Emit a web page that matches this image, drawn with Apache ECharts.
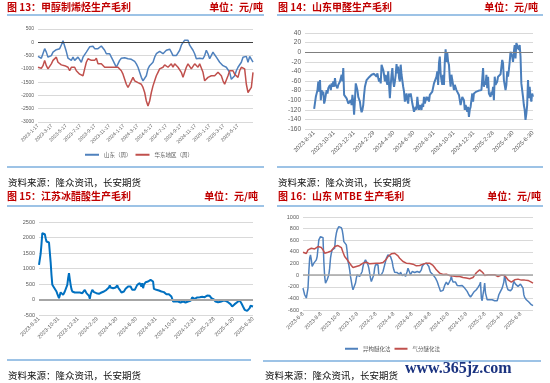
<!DOCTYPE html>
<html><head><meta charset="utf-8">
<script src="https://cdn.jsdelivr.net/npm/echarts@6/dist/echarts.min.js"></script>
<style>
html,body{margin:0;padding:0;background:#fff;width:550px;height:383px;overflow:hidden;}
#c{position:absolute;left:0;top:0;width:550px;height:383px;}
.t{position:absolute;font-family:"Noto Sans CJK SC";font-weight:bold;font-size:10px;color:#c00000;line-height:12px;white-space:nowrap;}
.r{position:absolute;height:2px;background:#9dc3e6;}
.s{position:absolute;font-family:"Noto Sans CJK SC";font-size:9.5px;color:#111;line-height:12px;white-space:nowrap;}
.w{position:absolute;font-family:"Liberation Serif";font-weight:bold;font-size:16px;color:#1b3380;line-height:20px;white-space:nowrap;}
</style></head><body>
<div id="c"></div>
<div class="t" style="left:7px;top:1px">图 13：甲醇制烯烃生产毛利</div>
<div class="t" style="right:287px;top:1px">单位：元/吨</div>
<div class="t" style="left:278px;top:1px">图 14：山东甲醛生产毛利</div>
<div class="t" style="right:12px;top:1px">单位：元/吨</div>
<div class="t" style="left:7px;top:190px">图 15：江苏冰醋酸生产毛利</div>
<div class="t" style="right:292px;top:190px">单位：元/吨</div>
<div class="t" style="left:278px;top:190px">图 16：山东 MTBE 生产毛利</div>
<div class="t" style="right:9px;top:190px">单位：元/吨</div>
<div class="r" style="left:7px;width:257px;top:14px"></div>
<div class="r" style="left:277px;width:266px;top:14px"></div>
<div class="r" style="left:7px;width:257px;top:205px"></div>
<div class="r" style="left:277px;width:266px;top:205px"></div>
<div class="r" style="left:7px;width:257px;top:166px"></div>
<div class="r" style="left:277px;width:266px;top:166px"></div>
<div class="r" style="left:7px;width:244px;top:359px"></div>
<div class="r" style="left:263px;width:278px;top:360px"></div>
<div class="s" style="left:8px;top:176px">资料来源：隆众资讯，长安期货</div>
<div class="s" style="left:278px;top:176px">资料来源：隆众资讯，长安期货</div>
<div class="s" style="left:8px;top:369px">资料来源：隆众资讯，长安期货</div>
<div class="s" style="left:265px;top:369px">资料来源：隆众资讯，长安期货</div>
<div class="w" style="left:405px;top:358px">www.365jz.com</div>
<script>
// ---------- DATA ----------
var p1Ticks = ['2023-1-17','2023-3-17','2023-5-17','2023-7-17','2023-9-17','2023-11-17','2024-1-17','2024-3-17','2024-5-17','2024-7-17','2024-9-17','2024-11-17','2025-1-17','2025-3-17','2025-5-17'];
var p1Range = ['2023-1-17','2025-7-20'];
var p1Shandong = [-530,-560,-600,-540,-240,-370,-560,-560,-500,-370,-300,-280,-340,-240,-100,60,130,-350,-600,-620,-680,-560,-680,-620,-560,-560,-750,-560,-500,-370,-300,-170,-110,-150,-240,-240,-240,-220,-140,-170,-300,-430,-500,-430,-560,-680,-810,-940,-810,-680,-600,-560,-580,-560,-620,-680,-640,-620,-720,-810,-940,-1130,-1320,-1450,-1450,-1260,-1000,-880,-810,-750,-560,-430,-370,-340,-370,-430,-370,-300,-240,-260,-370,-500,-560,-500,-430,-300,-110,-110,80,120,80,-110,-170,-300,-430,-620,-600,-600,-620,-620,-500,-300,-430,-620,-560,-370,-470,-560,-620,-750,-810,-880,-940,-940,-980,-1130,-1390,-1450,-1260,-1070,-940,-880,-750,-560,-500,-530,-750,-530,-500,-750];
var p1Huadong = [-940,-1000,-980,-880,-680,-880,-1000,-940,-810,-680,-620,-560,-750,-810,-850,-810,-880,-810,-940,-1070,-940,-1000,-940,-1070,-1130,-1200,-1260,-1260,-1000,-750,-620,-680,-680,-620,-680,-600,-810,-880,-810,-880,-940,-900,-940,-880,-940,-880,-940,-1000,-940,-940,-1070,-1200,-1390,-1580,-1700,-1580,-1450,-1320,-1450,-1520,-1520,-1450,-1580,-1700,-1890,-2210,-2400,-2210,-1890,-1640,-1450,-1260,-1130,-1000,-980,-940,-850,-880,-940,-880,-810,-940,-810,-880,-940,-1000,-1130,-1320,-1130,-940,-810,-880,-1000,-940,-810,-880,-940,-810,-880,-1130,-1450,-1520,-1320,-1320,-1260,-1320,-1260,-1230,-1130,-1110,-1260,-1450,-1580,-1520,-1260,-1070,-1130,-1070,-1200,-1130,-1320,-1070,-940,-880,-1000,-1580,-1890,-1890,-1700,-1130];

var p2Ticks = ['2023-8-31','2023-10-31','2023-12-31','2024-2-29','2024-4-30','2024-6-30','2024-8-31','2024-10-31','2024-12-31','2025-2-28','2025-4-30','2025-6-30'];
var p2Axis = ['2023-8-3','2025-6-30'];
var p2Range = ['2023-8-31','2025-6-30'];
var p2Formaldehyde = [-118,-114,-93,-95,-79,-61,-82,-58,-100,-79,-89,-82,-107,-100,-89,-79,-86,-75,-79,-68,-79,-65,-72,-61,-72,-54,-68,-65,-75,-68,-65,-61,-54,-47,-61,-33,-89,-93,-91,-96,-100,-107,-108,-110,-100,-110,-89,-103,-130,-100,-65,-72,-79,-93,-98,-103,-117,-125,-120,-110,-89,-72,-75,-58,-56,-54,-52,-51,-48,-47,-45,-44,-45,-46,-48,-51,-44,-54,-61,-54,-65,-26,-22,-37,-47,-61,-47,-61,-68,-40,-68,-96,-68,-47,-33,-61,-72,-61,-47,-25,-44,-30,-54,-61,-26,-47,-47,-72,-82,-103,-103,-86,-100,-107,-86,-93,-86,-96,-107,-110,-124,-120,-114,-120,-93,-110,-120,-110,-114,-120,-107,-114,-93,-107,-103,-93,-100,-93,-103,-89,-93,-86,-82,-79,-65,-68,-65,-51,-40,-68,-23,-9,-44,-58,-68,-47,-68,-20,6,-20,-2,-20,-26,-54,-72,-47,-58,-68,-79,-68,-72,-79,-77,-75,-89,-100,-110,-107,-93,-89,-100,-120,-110,-117,-124,-114,-135,-120,-114,-117,-86,-103,-86,-89,-85,-82,-82,-82,-80,-79,-79,-79,-75,-33,-72,-61,-68,-47,-75,-51,-86,-82,-93,-82,-89,-72,-100,-51,-68,-65,-61,-51,-49,-47,-46,-47,-16,-23,-58,-61,-79,-68,-40,-51,-37,-20,1,-2,-9,-20,1,15,-13,19,22,19,5,15,-9,-65,-65,-93,-110,-120,-141,-128,-110,-58,-96,-72,-93,-103,-86,-93];

var p3Ticks = p2Ticks;
var p3Range = ['2023-8-31','2025-6-30'];
var p3Acetic = [1118,1064,1480,1790,2139,2085,2170,2110,1978,1870,1838,1838,1838,1816,1200,790,473,419,387,365,344,258,180,150,43,97,230,258,204,150,204,258,226,312,473,688,849,650,473,333,258,237,258,226,237,204,226,183,204,226,183,226,204,183,226,312,258,204,258,226,118,22,170,226,312,344,237,204,226,204,183,226,183,204,237,226,258,204,258,290,290,312,344,312,387,452,387,365,344,365,365,333,387,419,452,387,344,312,258,226,280,237,258,312,344,365,387,419,452,473,419,365,312,280,280,312,290,333,473,527,494,527,473,419,527,365,473,494,559,559,527,580,580,602,634,656,580,580,344,312,290,312,333,312,290,290,280,258,258,237,237,204,183,172,183,172,172,150,150,97,22,-65,-129,-86,-65,-86,-43,-65,-86,-65,-97,-65,-43,-65,-86,-65,-97,-65,-86,-65,-43,-65,-43,-11,65,43,22,22,43,65,65,86,75,75,86,75,86,86,97,75,97,118,129,150,150,118,65,43,22,22,0,-22,-65,-86,-108,-86,-118,-97,-75,-65,-43,-43,-43,-32,-43,-32,-65,-86,-65,-118,-150,-204,-226,-194,-172,-150,-129,-118,-86,-65,-43,-32,-43,-118,-172,-226,-280,-333,-344,-312,-366,-323,-344,-280,-204,-226,-194,-226];

var p4Ticks = ['2023-6-8','2023-8-8','2023-10-8','2023-12-8','2024-2-8','2024-4-8','2024-6-8','2024-8-8','2024-10-8','2024-12-8','2025-2-8','2025-4-8','2025-6-8'];
var p4Range = ['2023-6-8','2025-7-19'];
var p4Isomer = [-223,-280,-337,-366,-394,-366,-223,63,291,349,263,149,177,206,234,234,263,320,463,606,634,663,674,663,646,234,-23,-137,-120,-80,-51,6,120,291,377,434,434,406,463,634,720,777,806,834,851,834,817,777,691,577,549,549,520,406,234,177,91,-23,-109,-194,-251,-280,-251,-137,-51,6,34,6,-23,6,-23,63,149,206,234,263,263,234,177,120,34,-51,-109,-120,-80,6,120,177,206,206,177,6,-23,-6,6,34,63,120,177,234,291,320,349,349,337,320,291,234,149,91,51,63,34,46,23,46,6,51,23,-6,-23,6,17,-23,-6,63,120,149,91,6,17,63,51,34,46,23,51,63,63,51,46,34,91,149,177,189,189,206,206,206,189,149,91,51,51,34,6,-6,-23,-51,-80,-109,-137,-194,-234,-280,-297,-280,-263,-223,-177,-154,-120,-137,-166,-137,-194,-80,-23,-80,-120,-137,-154,-120,-137,-177,-166,-177,-183,-177,-183,-177,-194,-211,-223,-240,-251,-280,-309,-337,-366,-377,-366,-337,-309,-291,-280,-263,-251,-234,-211,-194,-166,-120,-394,-440,-337,-251,-137,-309,-366,-423,-451,-440,-423,-406,-394,-423,-440,-417,-440,-429,-463,-440,-394,-337,-309,-280,-251,-223,-194,-120,6,-80,-166,-211,-251,-269,-263,-269,-269,-234,-166,-109,-120,-154,-177,-166,-194,-177,-194,-154,-120,-166,-223,-337,-383,-406,-423,-440,-451,-463,-480,-497,-509,-520,-526];
var p4Gas = [394,389,371,434,463,463,446,451,474,491,491,474,434,377,377,394,394,417,451,491,520,509,491,474,394,320,291,246,206,166,131,131,149,160,166,177,206,217,223,206,194,189,200,206,206,194,206,206,217,246,274,320,349,366,377,377,360,331,291,263,234,217,206,206,200,206,189,166,160,166,166,177,189,206,206,206,206,189,166,131,91,63,34,17,11,6,17,23,-6,-23,-17,-23,-23,-29,-23,-34,-40,-51,-51,-63,-63,-51,-40,-23,40,63,90,109,40,-6,6,6,-11,6,-6,6,-11,-23,-11,0,-6,-6,-23,-80,-109,-120,-109,-80,-80,-69,-80,-86,-80,-86,-91,-91,-109,-120,-137];

// ---------- HELPERS ----------
function ts(s){var p=s.split('-');return new Date(+p[0],+p[1]-1,+p[2]).getTime();}
function spread(a,b,n){var t0=ts(a),t1=ts(b),r=[];for(var i=0;i<n;i++)r.push(t0+(t1-t0)*i/(n-1));return r;}
function pairs(range,vals){var d=spread(range[0],range[1],vals.length);return vals.map(function(v,i){return [d[i],v];});}
var AX = '#595959';
function xAxis(gi, min, max, ticks, fs){
  var vals=ticks.map(ts);
  return {type:'value',gridIndex:gi,min:ts(min),max:ts(max),scale:true,
    axisLine:{show:false},axisTick:{show:false},splitLine:{show:false},
    axisLabel:{customValues:vals,rotate:45,fontSize:fs,color:AX,margin:3,fontFamily:'Liberation Sans',
      formatter:function(v){var best='',bd=1e15;for(var i=0;i<vals.length;i++){var d=Math.abs(vals[i]-v);if(d<bd){bd=d;best=ticks[i];}}return bd<86400000?best:'';}}};
}
function yAxis(gi,min,max,iv,fs){
  return {type:'value',gridIndex:gi,min:min,max:max,interval:iv,
    axisLine:{show:false},axisTick:{show:false},
    splitLine:{lineStyle:{color:'#d9d9d9',width:1}},
    axisLabel:{fontSize:fs,color:AX,margin:4,fontFamily:'Liberation Sans',formatter:function(v){return String(v);}}};
}
function zero(color,w){return {silent:true,symbol:['none','none'],animation:false,label:{show:false},
  lineStyle:{color:color,width:w,type:'solid'},data:[{yAxis:0}]};}
function line(name,gi,data,color,w,ml){
  var s={name:name,type:'line',xAxisIndex:gi,yAxisIndex:gi,data:data,showSymbol:false,symbol:'none',
    lineStyle:{color:color,width:w},itemStyle:{color:color},animation:false};
  if(ml)s.markLine=ml;return s;
}

var chart = echarts.init(document.getElementById('c'),null,{renderer:'canvas'});
chart.setOption({
  animation:false,
  grid:[
    {left:38,top:29,width:215,height:93},
    {left:305,top:33,width:228,height:96},
    {left:39,top:222,width:214,height:93},
    {left:303,top:217,width:230,height:93}
  ],
  xAxis:[
    xAxis(0,p1Range[0],p1Range[1],p1Ticks,5),
    xAxis(1,p2Axis[0],p2Axis[1],p2Ticks,6),
    xAxis(2,p3Range[0],p3Range[1],p3Ticks,5.5),
    xAxis(3,p4Range[0],p4Range[1],p4Ticks,5.5)
  ],
  yAxis:[
    yAxis(0,-3000,500,500,5),
    yAxis(1,-160,40,20,6.5),
    yAxis(2,-500,2500,500,5.5),
    yAxis(3,-600,1000,200,5.5)
  ],
  legend:[
    {data:['山东（周）','华东地区（周）'],left:85,top:152,icon:'rect',itemWidth:14,itemHeight:2,itemGap:4,
     textStyle:{fontSize:5.5,color:AX,fontFamily:'Noto Sans CJK SC'},padding:0},
    {data:['异构醚化法','气分醚化法'],left:345,top:346,icon:'rect',itemWidth:13,itemHeight:2,itemGap:4,
     textStyle:{fontSize:5.5,color:AX,fontFamily:'Noto Sans CJK SC'},padding:0}
  ],
  series:[
    line('山东（周）',0,pairs(p1Range,p1Shandong),'#4f81bd',1.5,zero('#404040',1)),
    line('华东地区（周）',0,pairs(p1Range,p1Huadong),'#c0504d',1.5),
    line('山东甲醛',1,pairs(p2Range,p2Formaldehyde),'#4a7ebb',2,zero('#7f7f7f',1)),
    line('江苏冰醋酸',2,pairs(p3Range,p3Acetic),'#0070c0',2,zero('#a6a6a6',2)),
    line('异构醚化法',3,pairs(p4Range,p4Isomer),'#4f81bd',1.5,zero('#a6a6a6',1.5)),
    line('气分醚化法',3,pairs(p4Range,p4Gas),'#c0504d',1.5)
  ]
});
</script>
</body></html>
